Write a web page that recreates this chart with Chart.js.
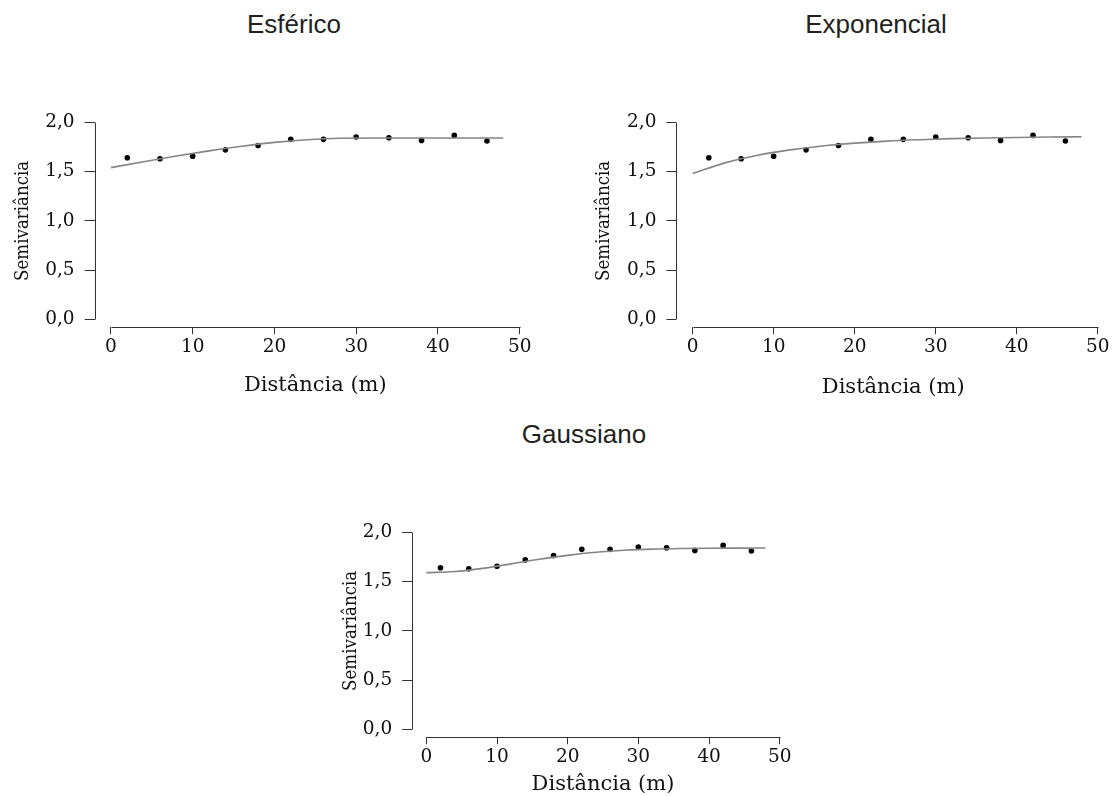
<!DOCTYPE html>
<html lang="pt">
<head>
<meta charset="UTF-8">
<title>Semivariogramas</title>
<script src="https://cdn.jsdelivr.net/npm/chart.js"></script>
<style>
  body { margin: 0; background: #fff; width: 1114px; height: 796px; overflow: hidden; position: relative; }
  .titulo { position: absolute; width: 300px; text-align: center; font-family: "Liberation Sans", Arial, sans-serif; font-size: 26px; line-height: 30px; color: #231f20; }
  canvas { position: absolute; }
</style>
</head>
<body>
<div class="titulo" style="left:144px; top:9px">Esférico</div>
<div class="titulo" style="left:726px; top:9px">Exponencial</div>
<div class="titulo" style="left:434px; top:419px">Gaussiano</div>

<canvas id="esferico" width="560" height="310" style="left:0; top:100px"></canvas>
<canvas id="exponencial" width="534" height="310" style="left:580px; top:100px"></canvas>
<canvas id="gaussiano" width="490" height="310" style="left:320px; top:500px"></canvas>

<script>
// semivariancia experimental (mesmos pontos nos tres graficos)
const distancias = [2, 6, 10, 14, 18, 22, 26, 30, 34, 38, 42, 46];
const semivariancia = [1.64, 1.63, 1.655, 1.72, 1.765, 1.827, 1.827, 1.85, 1.843, 1.816, 1.867, 1.81];

// modelos ajustados
const distModelo = [0, 4, 8, 12, 16, 20, 24, 28, 32, 36, 40, 44, 48];
const esferico = [1.54, 1.60, 1.657, 1.71, 1.757, 1.796, 1.823, 1.838, 1.84, 1.84, 1.84, 1.84, 1.84];
const exponencial = [1.48, 1.588, 1.665, 1.72, 1.76, 1.788, 1.809, 1.823, 1.834, 1.841, 1.846, 1.85, 1.853];
const gaussiano = [1.59, 1.602, 1.634, 1.679, 1.726, 1.766, 1.797, 1.817, 1.829, 1.835, 1.838, 1.839, 1.84];

const xTicks = [0, 10, 20, 30, 40, 50];
const yTicks = [0, 0.5, 1, 1.5, 2];

const axisColor = '#333';
const textColor = '#111';
const serifWide = '"DejaVu Serif", serif';
const serifNarrow = '"DejaVu Serif Condensed", "Liberation Serif", serif';

// eixos no estilo do R: linha so entre o primeiro e o ultimo tick
const axisLines = {
  id: 'axisLines',
  afterDraw(chart) {
    const { ctx, chartArea, scales: { x, y } } = chart;
    const px = v => Math.round(v) + 0.5;
    ctx.save();
    ctx.strokeStyle = axisColor;
    ctx.lineWidth = 1;
    ctx.beginPath();
    ctx.moveTo(px(chartArea.left), px(y.getPixelForValue(yTicks[0])));
    ctx.lineTo(px(chartArea.left), px(y.getPixelForValue(yTicks[yTicks.length - 1])));
    ctx.moveTo(px(x.getPixelForValue(xTicks[0])), px(chartArea.bottom));
    ctx.lineTo(px(x.getPixelForValue(xTicks[xTicks.length - 1])), px(chartArea.bottom));
    ctx.stroke();
    ctx.restore();
  }
};

function makeChart(id, modelo, cfg) {
  const canvas = document.getElementById(id);
  const W = canvas.width, H = canvas.height;
  const pontos = distancias.map((d, i) => ({ x: d, y: semivariancia[i] }));
  const curva = distModelo.map((d, i) => ({ x: d, y: modelo[i] }));

  new Chart(canvas, {
    type: 'scatter',
    data: {
      datasets: [
        { type: 'line', data: curva, borderColor: '#858585', borderWidth: 1.6, pointRadius: 0,
          cubicInterpolationMode: 'monotone', fill: false, order: 0 },
        { data: pontos, backgroundColor: '#000', borderColor: '#000', borderWidth: 0, pointRadius: 2.8, order: 1 }
      ]
    },
    options: {
      responsive: false,
      animation: false,
      devicePixelRatio: 1,
      layout: { padding: { left: 0, top: cfg.top, right: W - cfg.right, bottom: 0 } },
      plugins: { legend: { display: false }, tooltip: { enabled: false } },
      scales: {
        x: {
          type: 'linear', min: -2, max: cfg.xMax,
          afterBuildTicks: s => { s.ticks = xTicks.map(v => ({ value: v })); },
          afterFit: s => { s.height = H - cfg.bottom; s.paddingLeft = 0; s.paddingRight = 0; },
          grid: { drawOnChartArea: false, drawTicks: true, tickLength: 7, color: axisColor },
          border: { display: false },
          ticks: { padding: 2, color: textColor, autoSkip: false, maxRotation: 0,
                   font: { family: serifWide, size: 18.5 }, callback: v => String(v) },
          title: { display: true, text: 'Distância (m)', color: textColor,
                   font: { family: serifWide, size: 21 }, padding: { top: 0, bottom: cfg.xTitlePad } }
        },
        y: {
          type: 'linear', min: -0.08, max: 2.08,
          afterBuildTicks: s => { s.ticks = yTicks.map(v => ({ value: v })); },
          afterFit: s => { s.width = cfg.left; s.paddingTop = 0; s.paddingBottom = 0; },
          grid: { drawOnChartArea: false, drawTicks: true, tickLength: 10, color: axisColor },
          border: { display: false },
          ticks: { padding: 10, color: textColor,
                   font: { family: serifWide, size: 18.5 },
                   callback: v => v.toFixed(1).replace('.', ',') },
          title: { display: true, text: 'Semivariância', color: textColor,
                   font: { family: serifNarrow, size: 18.5 }, padding: { top: cfg.yTitlePad, bottom: 0 } }
        }
      }
    },
    plugins: [axisLines]
  });
}

makeChart('esferico', esferico, { left: 94.6, right: 536, top: 14.4, bottom: 227.2, xMax: 52, xTitlePad: 12, yTitlePad: 11.8 });
makeChart('exponencial', exponencial, { left: 96.4, right: 533.2, top: 14.4, bottom: 227.2, xMax: 51.5, xTitlePad: 10, yTitlePad: 13.3 });
makeChart('gaussiano', gaussiano, { left: 92.2, right: 473.8, top: 24.4, bottom: 237.2, xMax: 52, xTitlePad: 12.5, yTitlePad: 20.5 });
</script>
</body>
</html>
